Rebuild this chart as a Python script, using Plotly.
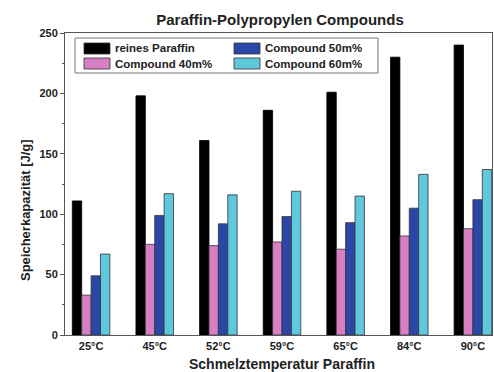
import plotly.graph_objects as go

categories = ["25°C", "45°C", "52°C", "59°C", "65°C", "84°C", "90°C"]
reines_paraffin = [111, 198, 161, 186, 201, 230, 240]
compound_40 = [33, 75, 74, 77, 71, 82, 88]
compound_50 = [49, 99, 92, 98, 93, 105, 112]
compound_60 = [67, 117, 116, 119, 115, 133, 137]

series_names = ["reines Paraffin", "Compound 40m%", "Compound 50m%", "Compound 60m%"]
series_values = [reines_paraffin, compound_40, compound_50, compound_60]
series_colors = ["#000000", "#d67fc2", "#2c46a8", "#5ec8dc"]

fig = go.Figure()
for name, vals, color in zip(series_names, series_values, series_colors):
    fig.add_trace(go.Bar(
        x=list(range(len(categories))), y=vals, name=name,
        marker=dict(color=color,
                    line=dict(color="#000000" if color == "#000000" else "#333333", width=0.8)),
        showlegend=False,
    ))

font_fam = "Liberation Sans, Arial, sans-serif"
TXT = "#222222"
L, R, T, B = 65, 2, 33, 37
W, H = 494, 372
pw, ph = W - L - R, H - T - B

def px(x):
    return (x - L) / pw

def py(y):
    return (H - B - y) / ph

# manual legend (two columns, wide swatches)
legend_layout = [
    (0, 84, 48.5), (1, 84, 63.5), (2, 234, 48.5), (3, 234, 63.5),
]
shapes = [dict(type="rect", xref="paper", yref="paper",
               x0=px(75), x1=px(378), y0=py(73), y1=py(38),
               line=dict(color="#777777", width=1))]
annotations = []
for idx, sx, sy in legend_layout:
    shapes.append(dict(type="rect", xref="paper", yref="paper",
                       x0=px(sx), x1=px(sx + 26), y0=py(sy + 5.5), y1=py(sy - 5.5),
                       fillcolor=series_colors[idx], line=dict(color="#333333", width=0.8)))
    annotations.append(dict(xref="paper", yref="paper", x=px(sx + 29), y=py(sy),
                            xanchor="left", yanchor="middle", showarrow=False,
                            text=series_names[idx],
                            font=dict(size=11.5, family=font_fam, color=TXT, weight="bold")))

# y axis title
annotations.append(dict(xref="paper", yref="paper", x=px(25), y=py(210),
                        xanchor="center", yanchor="middle", showarrow=False, textangle=-90,
                        text="Speicherkapazität [J/g]",
                        font=dict(size=13, family=font_fam, color=TXT, weight="bold")))
# x axis title
annotations.append(dict(xref="paper", yref="paper", x=px(282), y=py(364),
                        xanchor="center", yanchor="middle", showarrow=False,
                        text="Schmelztemperatur Paraffin",
                        font=dict(size=14, family=font_fam, color=TXT, weight="bold")))

fig.update_layout(
    width=W, height=H,
    margin=dict(l=L, r=R, t=T, b=B),
    paper_bgcolor="white", plot_bgcolor="white",
    barmode="group", bargap=0.41, bargroupgap=0,
    font=dict(family=font_fam, color=TXT, weight="bold"),
    title=dict(text="Paraffin-Polypropylen Compounds", xref="container", x=280 / W,
               xanchor="center", y=1 - 20 / H, yanchor="middle",
               font=dict(size=15, family=font_fam, color=TXT, weight="bold")),
    showlegend=False,
    shapes=shapes,
    annotations=annotations,
)

fig.update_xaxes(
    range=[-0.41, 6.3],
    tickmode="array", tickvals=list(range(len(categories))), ticktext=categories,
    showgrid=False, zeroline=False,
    showline=True, linecolor="#555555", linewidth=1, mirror=True,
    ticks="", ticklabelstandoff=1,
    tickfont=dict(size=11, family=font_fam, color=TXT, weight="bold"),
)
fig.update_yaxes(
    range=[0, 250], dtick=50,
    showgrid=False, zeroline=False,
    showline=True, linecolor="#555555", linewidth=1, mirror=True,
    ticks="outside", ticklen=4, tickcolor="#555555",
    minor=dict(dtick=25, ticks="outside", ticklen=2, tickcolor="#555555"),
    tickfont=dict(size=11, family=font_fam, color=TXT, weight="bold"),
)

fig.write_html("out.html", config={"displayModeBar": False},
               post_script="document.body.style.margin='0';")
